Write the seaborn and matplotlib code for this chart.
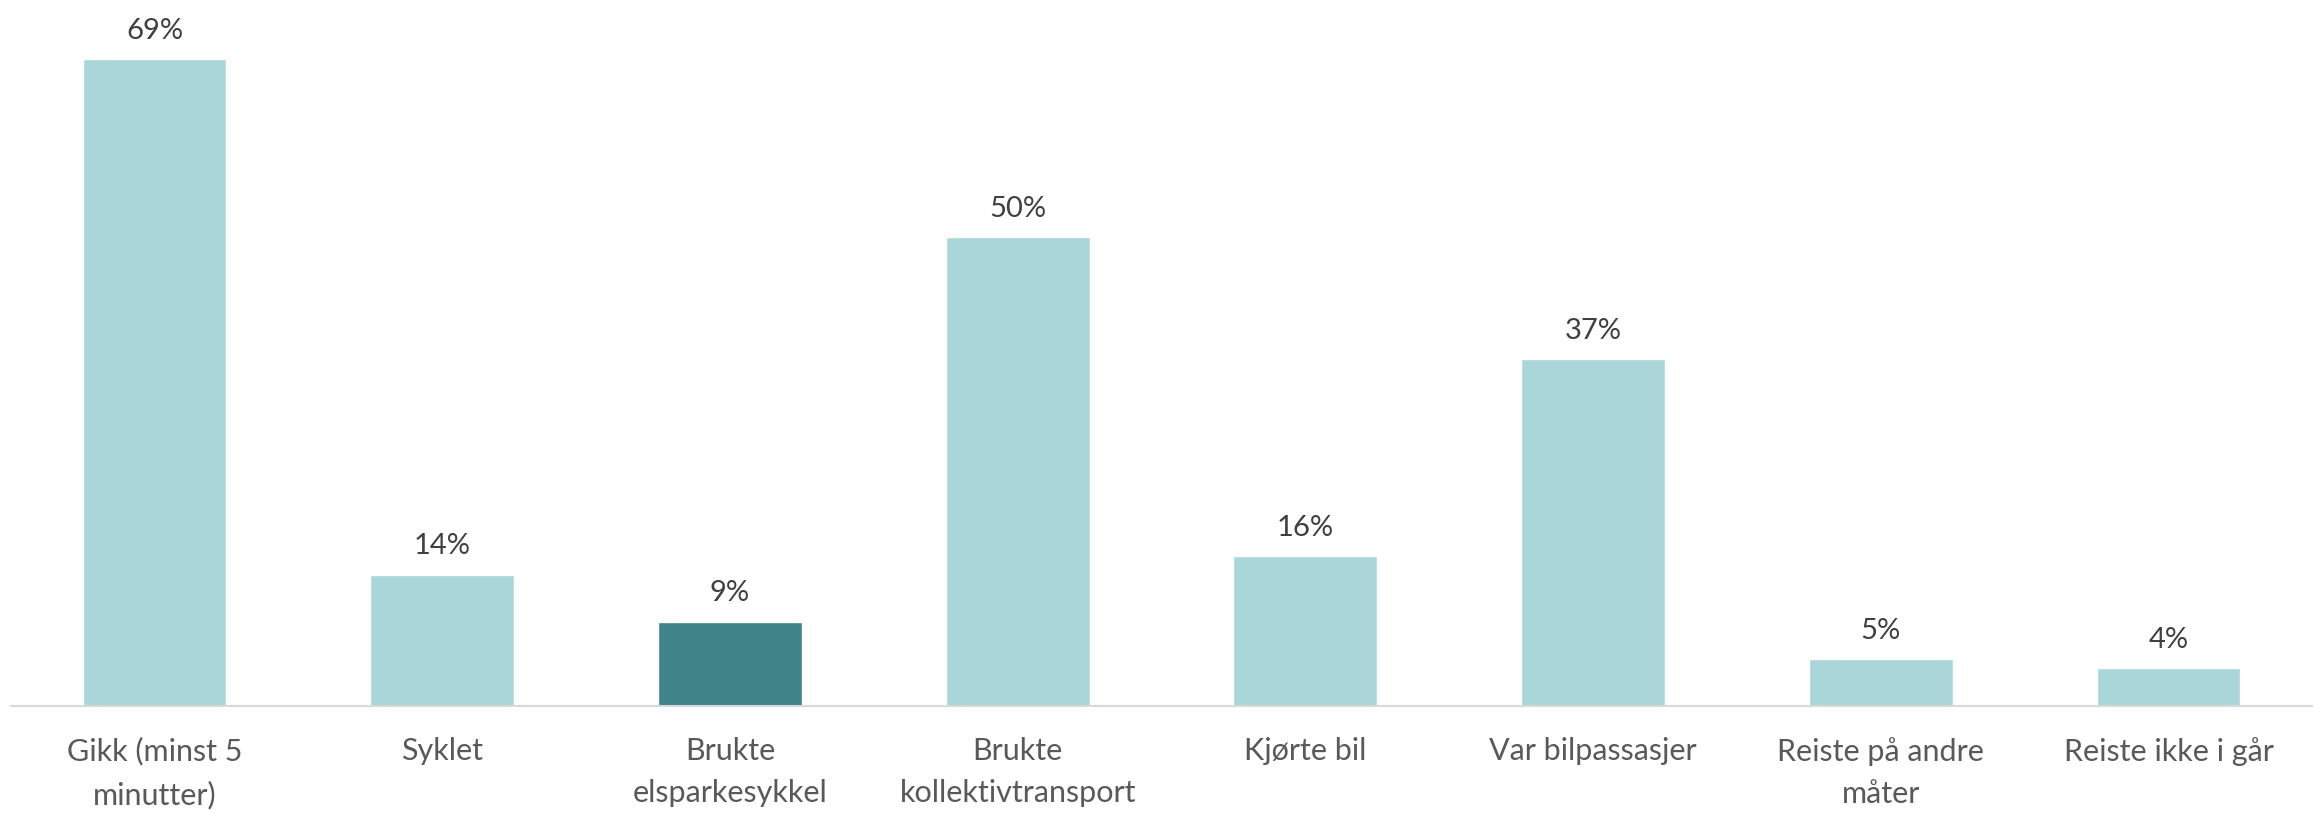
import matplotlib
matplotlib.use('Agg')
import matplotlib.pyplot as plt
import seaborn as sns
import pandas as pd

# Data
categories = ['Gikk (minst 5\nminutter)', 'Syklet', 'Brukte\nelsparkesykkel',
              'Brukte\nkollektivtransport', 'Kjørte bil', 'Var bilpassasjer',
              'Reiste på andre\nmåter', 'Reiste ikke i går']
values = [69, 14, 9, 50, 16, 37, 5, 4]
highlight = 'Brukte\nelsparkesykkel'

light = '#ABD6D9'
dark = '#3F8489'

df = pd.DataFrame({'Kategori': categories, 'Andel': values})

sns.set_theme(style='white')
plt.rcParams['font.family'] = ['Lato', 'DejaVu Sans']

fig = plt.figure(figsize=(23.2, 8.19), dpi=100)
ax = fig.add_axes([0.0046, 0.138, 0.9921, 0.862])

palette = {c: (dark if c == highlight else light) for c in categories}
sns.barplot(data=df, x='Kategori', y='Andel', hue='Kategori', palette=palette,
            width=0.5, legend=False, saturation=1, ax=ax)

for cont in ax.containers:
    ax.bar_label(cont, fmt='%g%%', padding=11, fontsize=21, color='#404040')

ax.set_xlim(-0.5, len(categories) - 0.5)
ax.set_ylim(0, 75.3)
ax.set_xlabel('')
ax.set_ylabel('')
ax.set_yticks([])
ax.tick_params(axis='x', length=0, pad=22, labelsize=22, labelcolor='#595959')
for lbl in ax.get_xticklabels():
    lbl.set_linespacing(1.65)

for side in ['top', 'right', 'left']:
    ax.spines[side].set_visible(False)
ax.spines['bottom'].set_color('#D9D9D9')
ax.spines['bottom'].set_linewidth(1.5)

fig.savefig('out.png', dpi=100, facecolor='white')
